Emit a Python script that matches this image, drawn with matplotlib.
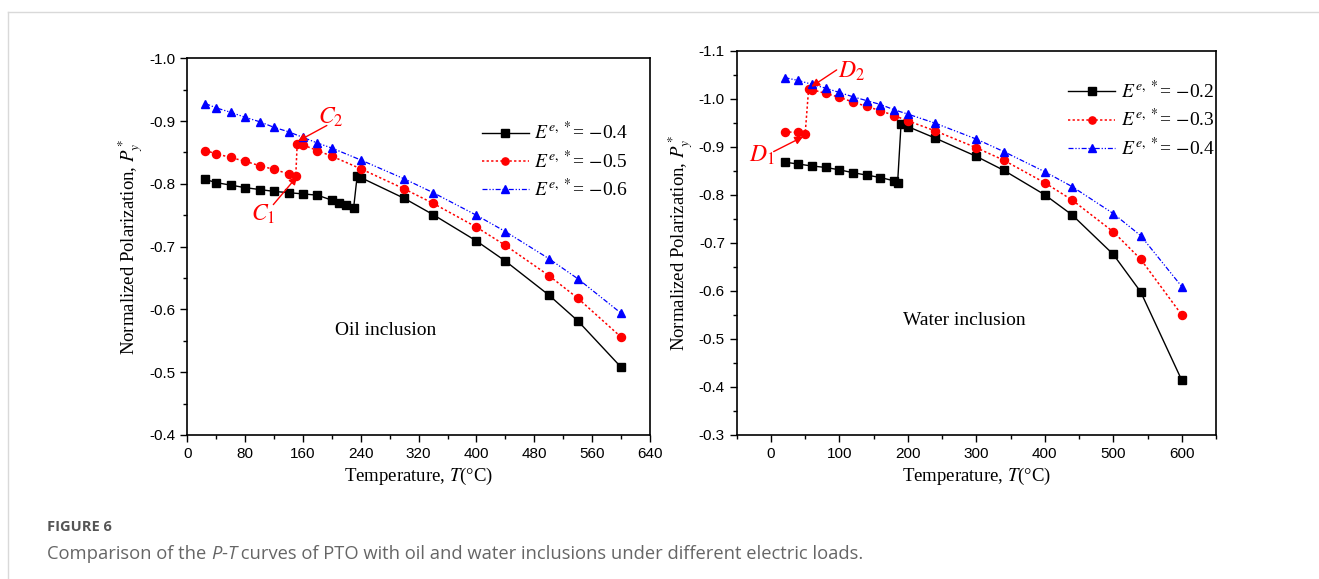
import numpy as np
import matplotlib
matplotlib.use("Agg")
import matplotlib.pyplot as plt
from matplotlib.ticker import MultipleLocator
from matplotlib.lines import Line2D

plt.rcParams['mathtext.fontset'] = 'stix'
plt.rcParams['axes.unicode_minus'] = False

# ---- oil inclusion (left) ----
oil_T1 = [25, 40, 60, 80, 100, 120, 140, 160, 180, 200, 210, 220, 230, 235, 240,
          300, 340, 400, 440, 500, 540, 600]
oil_P1 = [-0.807, -0.802, -0.798, -0.794, -0.791, -0.788, -0.786, -0.784, -0.782,
          -0.774, -0.769, -0.766, -0.761, -0.813, -0.810,
          -0.777, -0.751, -0.709, -0.677, -0.623, -0.582, -0.508]
oil_T2 = [25, 40, 60, 80, 100, 120, 140, 150, 152, 160, 180, 200, 240,
          300, 340, 400, 440, 500, 540, 600]
oil_P2 = [-0.853, -0.848, -0.842, -0.836, -0.829, -0.823, -0.816, -0.812, -0.864,
          -0.862, -0.853, -0.844, -0.824,
          -0.792, -0.769, -0.731, -0.702, -0.654, -0.618, -0.556]
oil_T3 = [25, 40, 60, 80, 100, 120, 140, 160, 180, 200, 240,
          300, 340, 400, 440, 500, 540, 600]
oil_P3 = [-0.928, -0.921, -0.914, -0.906, -0.899, -0.890, -0.883, -0.874, -0.865,
          -0.857, -0.838, -0.808, -0.786, -0.750, -0.724, -0.681, -0.649, -0.594]
oil_labels = ['-0.4', '-0.5', '-0.6']

# ---- water inclusion (right) ----
wat_T1 = [20, 40, 60, 80, 100, 120, 140, 160, 180, 185, 190, 200, 240,
          300, 340, 400, 440, 500, 540, 600]
wat_P1 = [-0.868, -0.864, -0.860, -0.857, -0.852, -0.846, -0.841, -0.836, -0.829,
          -0.825, -0.947, -0.942, -0.918,
          -0.880, -0.851, -0.800, -0.758, -0.676, -0.598, -0.414]
wat_T2 = [20, 40, 50, 55, 60, 80, 100, 120, 140, 160, 180, 200, 240,
          300, 340, 400, 440, 500, 540, 600]
wat_P2 = [-0.931, -0.930, -0.927, -1.020, -1.019, -1.011, -1.003, -0.993, -0.984,
          -0.975, -0.965, -0.954, -0.933,
          -0.898, -0.872, -0.825, -0.789, -0.723, -0.666, -0.550]
wat_T3 = [20, 40, 60, 80, 100, 120, 140, 160, 180, 200, 240,
          300, 340, 400, 440, 500, 540, 600]
wat_P3 = [-1.044, -1.038, -1.030, -1.022, -1.013, -1.004, -0.996, -0.988, -0.977,
          -0.968, -0.949, -0.916, -0.890, -0.848, -0.817, -0.761, -0.715, -0.609]
wat_labels = ['-0.2', '-0.3', '-0.4']

W, H = 1319, 579
fig = plt.figure(figsize=(W / 100, H / 100), dpi=100)

serif = 'Liberation Serif'
sans = 'Liberation Sans'
dashdotdot = (0, (4, 1.5, 1, 1.5, 1, 1.5))
styles = [
    dict(color='black', ls='-', lw=1.0, marker='s', ms=5.2),
    dict(color='red', ls=(0, (1.5, 1.5)), lw=1.1, marker='o', ms=5.8),
    dict(color='blue', ls=dashdotdot, lw=0.9, marker='^', ms=6.3),
]


def setup(ax, xlim, xmaj, xmin, ylim, ymaj, ymin):
    ax.set_xlim(*xlim)
    ax.set_ylim(*ylim)
    ax.xaxis.set_major_locator(MultipleLocator(xmaj))
    ax.xaxis.set_minor_locator(MultipleLocator(xmin))
    ax.yaxis.set_major_locator(MultipleLocator(ymaj))
    ax.yaxis.set_minor_locator(MultipleLocator(ymin))
    ax.yaxis.set_major_formatter(matplotlib.ticker.FormatStrFormatter('%.1f'))
    ax.tick_params(which='major', direction='out', length=5, width=1,
                   labelsize=11)
    ax.tick_params(which='minor', direction='out', length=3, width=1)
    for lab in ax.get_xticklabels() + ax.get_yticklabels():
        lab.set_family(sans)
    for s in ax.spines.values():
        s.set_linewidth(1.2)
    ax.set_xlabel(r'Temperature, $T$(°C)', family=serif, fontsize=13.5, labelpad=4)
    ax.set_ylabel(r'Normalized Polarization, $P_y^*$', family=serif,
                  fontsize=13.5, labelpad=3)


def legend(ax, labels, anchor):
    hs = [Line2D([], [], **styles[i]) for i in range(3)]
    for h in hs:
        h.set_markersize(5.2)
    ls = [r'$E^{e,\,*}$= $-$' + l[1:] for l in labels]
    ax.legend(hs, ls, loc='upper left', bbox_to_anchor=anchor, frameon=False,
              prop={'family': serif, 'size': 14}, handlelength=2.4,
              handletextpad=0.3, labelspacing=0.32, borderaxespad=0,
              markerscale=1.0)


red_arrow = dict(arrowstyle='-|>', color='red', lw=1.0, mutation_scale=12,
                 shrinkA=0, shrinkB=0)

# left panel
ax1 = fig.add_axes([187.3 / W, 1 - 435 / H, (650 - 187.3) / W, (435 - 58.3) / H])
for T, P, st in zip([oil_T1, oil_T2, oil_T3], [oil_P1, oil_P2, oil_P3], styles):
    ax1.plot(T, P, **st)
setup(ax1, (0, 640), 80, 40, (-0.4, -1.0), 0.1, 0.05)
legend(ax1, oil_labels, (0.62, 0.853))
ax1.text(275, -0.567, 'Oil inclusion', family=serif, fontsize=14,
         ha='center', va='center')
ax1.annotate('', xy=(153, -0.868), xytext=(193, -0.893), arrowprops=red_arrow)
ax1.text(198, -0.907, r'$C_2$', color='red', fontsize=17, ha='center', va='center')
ax1.annotate('', xy=(152, -0.812), xytext=(119, -0.767), arrowprops=red_arrow)
ax1.text(105, -0.752, r'$C_1$', color='red', fontsize=17, ha='center', va='center')

# right panel
ax2 = fig.add_axes([736.7 / W, 1 - 435 / H, (1216 - 736.7) / W, (435 - 50.7) / H])
for T, P, st in zip([wat_T1, wat_T2, wat_T3], [wat_P1, wat_P2, wat_P3], styles):
    ax2.plot(T, P, **st)
setup(ax2, (-50, 650), 100, 50, (-0.3, -1.1), 0.1, 0.05)
legend(ax2, wat_labels, (0.676, 0.944))
ax2.text(282, -0.539, 'Water inclusion', family=serif, fontsize=14,
         ha='center', va='center')
ax2.annotate('', xy=(59, -1.025), xytext=(96, -1.060), arrowprops=red_arrow)
ax2.text(118, -1.057, r'$D_2$', color='red', fontsize=17, ha='center', va='center')
ax2.annotate('', xy=(47, -0.921), xytext=(4, -0.890), arrowprops=red_arrow)
ax2.text(-13, -0.882, r'$D_1$', color='red', fontsize=17, ha='center', va='center')

# frame lines and caption
fig.add_artist(Line2D([8 / W, 1], [1 - 12 / H, 1 - 12 / H], color='#d9d9d9', lw=1))
fig.add_artist(Line2D([8 / W, 8 / W], [0, 1 - 12 / H], color='#d9d9d9', lw=1))
fig.text(47 / W, 1 - 527 / H, 'FIGURE 6', family='Open Sans', weight='bold',
         fontsize=10.5, color='#555555', va='center')

# caption pieces chained left to right so that P-T can be italic
renderer = fig.canvas.get_renderer()
parts = [('Comparison of the ', 'normal'), ('P', 'italic'), ('-', 'normal'),
         ('T', 'italic'),
         (' curves of PTO with oil and water inclusions under different electric loads.',
          'normal')]
xpos = 47
for txt, style in parts:
    t = fig.text(xpos / W, 1 - 554 / H, txt, family='Open Sans', style=style,
                 fontsize=13.2, color='#666666', va='center')
    xpos += t.get_window_extent(renderer).width

fig.savefig('out.png', dpi=100)
